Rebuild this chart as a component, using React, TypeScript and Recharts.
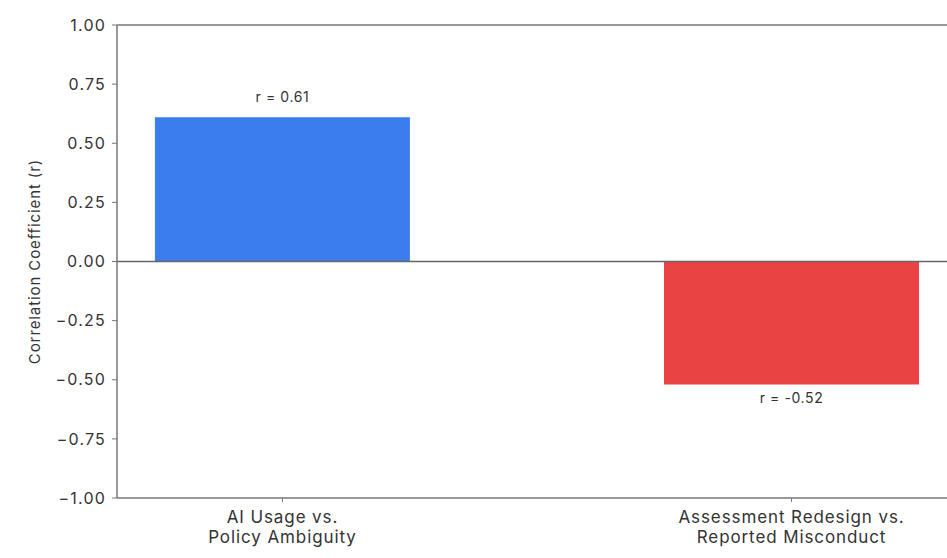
import React from 'react';
import {
  BarChart,
  Bar,
  XAxis,
  YAxis,
  ReferenceLine,
  LabelList,
  Cell,
} from 'recharts';

const categories = ['AI Usage vs. Policy Ambiguity', 'Assessment Redesign vs. Reported Misconduct'];
const positions = [0, 1];
const correlations = [0.61, -0.52];
const barColors = ['#3b7ded', '#e94343'];
const yTicks = [-1, -0.75, -0.5, -0.25, 0, 0.25, 0.5, 0.75, 1];

const data = positions.map((pos, i) => ({
  pos,
  name: categories[i],
  r: correlations[i],
}));

const FONT = 'Inter, "Open Sans", sans-serif';
const TEXT = '#333';
const SPINE = '#777';

// matplotlib-style minus sign
const fmtY = (v: number) => v.toFixed(2).replace('-', '\u2212');

function CategoryTick(props: any) {
  const { x, y, payload } = props;
  const label: string = categories[payload.value] ?? '';
  const idx = label.indexOf('vs.');
  const lines = idx >= 0 ? [label.slice(0, idx + 3), label.slice(idx + 4)] : [label];
  return (
    <text
      x={x}
      y={y + 6}
      textAnchor="middle"
      fill={TEXT}
      fontSize={17}
      letterSpacing={0.9}
      fontFamily={FONT}
    >
      {lines.map((ln, i) => (
        <tspan key={i} x={x} dy={i === 0 ? 13 : 20}>
          {ln}
        </tspan>
      ))}
    </text>
  );
}

function RLabel(props: any) {
  const { x, y, width, height, value } = props;
  const top = Math.min(y, y + height);
  const bottom = Math.max(y, y + height);
  const cx = x + width / 2;
  const text = `r = ${value.toFixed(2)}`;
  const common = {
    textAnchor: 'middle' as const,
    fill: TEXT,
    fontSize: 14,
    letterSpacing: 0.6,
    fontFamily: FONT,
  };
  return value >= 0 ? (
    <text x={cx} y={top - 15} {...common}>
      {text}
    </text>
  ) : (
    <text x={cx} y={bottom + 19} {...common}>
      {text}
    </text>
  );
}

export default function App() {
  return (
    <div
      style={{
        position: 'fixed',
        left: 0,
        top: 0,
        width: 947,
        height: 558,
        overflow: 'hidden',
        background: '#fff',
      }}
    >
      <BarChart
        width={990}
        height={558}
        data={data}
        margin={{ top: 25, right: 33, bottom: 0, left: 20 }}
      >
        <XAxis
          dataKey="pos"
          type="number"
          domain={[-0.325, 1.325]}
          ticks={positions}
          tick={<CategoryTick />}
          tickSize={4}
          tickLine={{ stroke: SPINE }}
          axisLine={{ stroke: SPINE, strokeWidth: 1.5 }}
          height={60}
          allowDataOverflow
        />
        <YAxis
          type="number"
          domain={[-1, 1]}
          ticks={yTicks}
          tickFormatter={fmtY}
          tick={{ fill: TEXT, fontSize: 16, fontFamily: FONT, letterSpacing: 1.2 }}
          tickSize={5}
          tickMargin={6}
          tickLine={{ stroke: SPINE }}
          axisLine={{ stroke: SPINE, strokeWidth: 1.5 }}
          width={97}
          label={{
            value: 'Correlation Coefficient (r)',
            angle: -90,
            position: 'insideLeft',
            offset: 15,
            style: {
              textAnchor: 'middle',
              fill: TEXT,
              fontSize: 15,
              letterSpacing: 0.9,
              fontFamily: FONT,
            },
          }}
        />
        <ReferenceLine y={1} stroke={SPINE} strokeWidth={1.5} />
        <Bar dataKey="r" barSize={255} isAnimationActive={false}>
          {data.map((d, i) => (
            <Cell key={d.name} fill={barColors[i]} />
          ))}
          <LabelList dataKey="r" content={<RLabel />} />
        </Bar>
        <ReferenceLine y={0} stroke="#666" strokeWidth={1.5} />
      </BarChart>
    </div>
  );
}
